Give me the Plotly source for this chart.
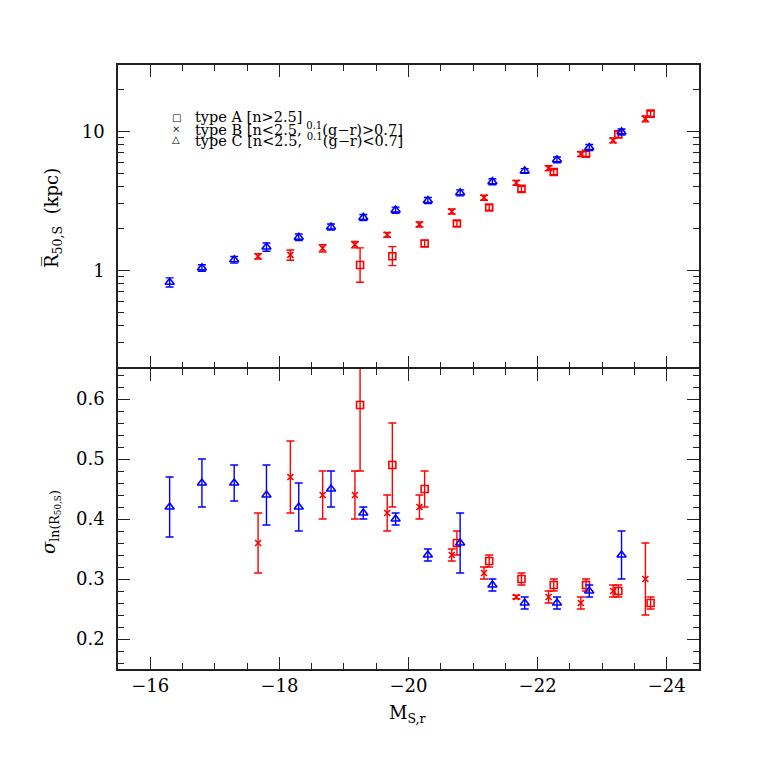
import plotly.graph_objects as go

# ---------------- data ----------------
# x positions: absolute magnitude M_S,r
xA = [-19.25, -19.75, -20.25, -20.75, -21.25, -21.75, -22.25, -22.75, -23.25, -23.75]
xB = [-17.67, -18.17, -18.67, -19.17, -19.67, -20.17, -20.67, -21.17, -21.67, -22.17, -22.67, -23.17, -23.67]
xC = [-16.3, -16.8, -17.3, -17.8, -18.3, -18.8, -19.3, -19.8, -20.3, -20.8, -21.3, -21.8, -22.3, -22.8, -23.3]

# top panel: mean R50,S (kpc)
RA = [1.09, 1.26, 1.56, 2.17, 2.83, 3.85, 5.10, 6.89, 9.5, 13.4]
RA_up = [0.36, 0.22, 0.08, 0.10, 0.13, 0.17, 0.22, 0.30, 0.45, 0.60]
RA_dn = [0.27, 0.18, 0.08, 0.10, 0.13, 0.17, 0.22, 0.30, 0.45, 0.60]
RB = [1.26, 1.29, 1.44, 1.53, 1.80, 2.14, 2.65, 3.33, 4.26, 5.43, 6.86, 8.6, 12.3]
RB_err = [0.057, 0.11, 0.086, 0.08, 0.07, 0.09, 0.11, 0.14, 0.17, 0.22, 0.27, 0.35, 0.6]
RC = [0.82, 1.04, 1.19, 1.47, 1.73, 2.05, 2.40, 2.71, 3.18, 3.61, 4.34, 5.19, 6.24, 7.65, 9.9]
RC_err = [0.062, 0.057, 0.065, 0.10, 0.095, 0.10, 0.12, 0.135, 0.16, 0.18, 0.22, 0.20, 0.30, 0.38, 0.50]

# bottom panel: sigma ln(R50,S)
SA = [0.59, 0.49, 0.45, 0.36, 0.33, 0.30, 0.29, 0.29, 0.28, 0.26]
SA_up = [0.16, 0.07, 0.03, 0.02, 0.01, 0.01, 0.01, 0.01, 0.01, 0.01]
SA_dn = [0.11, 0.07, 0.03, 0.02, 0.01, 0.01, 0.01, 0.01, 0.01, 0.01]
SB = [0.36, 0.47, 0.44, 0.44, 0.41, 0.42, 0.34, 0.31, 0.27, 0.27, 0.26, 0.28, 0.30]
SB_err = [0.05, 0.06, 0.04, 0.04, 0.03, 0.02, 0.01, 0.01, 0.003, 0.01, 0.01, 0.01, 0.06]
SC = [0.42, 0.46, 0.46, 0.44, 0.42, 0.45, 0.41, 0.40, 0.34, 0.36, 0.29, 0.26, 0.26, 0.28, 0.34]
SC_err = [0.05, 0.04, 0.03, 0.05, 0.04, 0.03, 0.01, 0.01, 0.01, 0.05, 0.01, 0.01, 0.01, 0.01, 0.04]

# tick definitions
x_major = [-16, -18, -20, -22, -24]
x_major_text = ["\u221216", "\u221218", "\u221220", "\u221222", "\u221224"]
r_major = [1, 10]
r_major_text = ["1", "10"]
r_minor = [0.2, 0.3, 0.4, 0.5, 0.6, 0.7, 0.8, 0.9, 2, 3, 4, 5, 6, 7, 8, 9, 20]
s_major = [0.2, 0.3, 0.4, 0.5, 0.6]
s_major_text = ["0.2", "0.3", "0.4", "0.5", "0.6"]

legend_labels = [
    "type A [n>2.5]",
    "type B [n<2.5, <sup>0.1</sup>(g\u2212r)>0.7]",
    "type C [n<2.5, <sup>0.1</sup>(g\u2212r)<0.7]",
]
legend_symbols = ["\u25a1", "\u00d7", "\u25b3"]

RED = "#ff0000"
BLUE = "#0000ff"
FONT = "DejaVu Serif"

fig = go.Figure()


def add(x, y, up, dn, color, symbol, size, xa, ya):
    fig.add_trace(go.Scatter(
        x=x, y=y, mode="markers", xaxis=xa, yaxis=ya, showlegend=False,
        marker=dict(symbol=symbol, size=size, color=color,
                    line=dict(color=color, width=1.6)),
        error_y=dict(type="data", symmetric=False, array=up, arrayminus=dn,
                     color=color, thickness=1.4, width=4),
    ))


# top panel
add(xA, RA, RA_up, RA_dn, RED, "square-open", 7, "x2", "y2")
add(xB, RB, RB_err, RB_err, RED, "x-thin-open", 6, "x2", "y2")
add(xC, RC, RC_err, RC_err, BLUE, "triangle-up-open", 8, "x2", "y2")
# bottom panel
add(xA, SA, SA_up, SA_dn, RED, "square-open", 7, "x", "y")
add(xB, SB, SB_err, SB_err, RED, "x-thin-open", 6, "x", "y")
add(xC, SC, SC_err, SC_err, BLUE, "triangle-up-open", 8, "x", "y")

# frame geometry (px, figure coordinates; page has an 8px body margin)
OFF = 8
W = H = 755
L, T = 110, 57
PW, PH = 581, 604
R = W - L - PW
B = H - T - PH
LW = 1.6
split = 300 / PH
gap = LW / PH

axis_common = dict(
    showline=True, linecolor="#222", linewidth=LW, mirror="allticks",
    ticks="inside", ticklen=12, tickwidth=1.3, tickcolor="#222",
    showgrid=False, zeroline=False,
    tickfont=dict(family=FONT, size=18, color="black"),
)

fig.update_layout(
    width=W, height=H,
    margin=dict(l=L, r=R, t=T, b=B),
    paper_bgcolor="white", plot_bgcolor="white",
    font=dict(family=FONT, color="black"),
    xaxis=dict(domain=[0, 1], anchor="y", range=[-15.5, -24.5],
               tickmode="array", tickvals=x_major, ticktext=x_major_text,
               minor=dict(dtick=0.5, tick0=-16, ticks="inside", ticklen=6,
                          tickwidth=1.2, tickcolor="#222", showgrid=False),
               **axis_common),
    xaxis2=dict(domain=[0, 1], anchor="y2", range=[-15.5, -24.5], matches="x",
                tickmode="array", tickvals=x_major, showticklabels=False,
                minor=dict(dtick=0.5, tick0=-16, ticks="inside", ticklen=6,
                           tickwidth=1.2, tickcolor="#222", showgrid=False),
                **axis_common),
    yaxis=dict(domain=[0, split], anchor="x", range=[0.15, 0.65],
               tickmode="array", tickvals=s_major, ticktext=s_major_text,
               ticklabelstandoff=8,
               minor=dict(dtick=0.02, tick0=0, ticks="inside", ticklen=6,
                          tickwidth=1.2, tickcolor="#222", showgrid=False),
               **axis_common),
    yaxis2=dict(domain=[split + gap, 1], anchor="x2", type="log",
                range=[-0.69897, 1.4771],
                tickmode="array", tickvals=r_major, ticktext=r_major_text,
                ticklabelstandoff=8,
                minor=dict(tickmode="array", tickvals=r_minor, ticks="inside",
                           ticklen=6, tickwidth=1.2, tickcolor="#222",
                           showgrid=False),
                **axis_common),
)


def px2paper(px, py):
    """page pixel -> paper fraction"""
    fx, fy = px - OFF, py - OFF
    return (fx - L) / PW, (T + PH - fy) / PH


annots = []
# axis titles
x0, y0 = px2paper(408, 714)
annots.append(dict(x=x0, y=y0, xref="paper", yref="paper", showarrow=False,
                   text="M<sub>S,r</sub>", font=dict(family=FONT, size=18, color="black"),
                   xanchor="center", yanchor="middle"))
x0, y0 = px2paper(53, 218)
annots.append(dict(x=x0, y=y0, xref="paper", yref="paper", showarrow=False,
                   text="R\u0305<sub>50,S</sub>  (kpc)", textangle=-90,
                   font=dict(family=FONT, size=18, color="black"),
                   xanchor="center", yanchor="middle"))
x0, y0 = px2paper(50, 522)
annots.append(dict(x=x0, y=y0, xref="paper", yref="paper", showarrow=False,
                   text="<i>\u03c3</i><sub>ln(R<sub>50,S</sub>)</sub>", textangle=-90,
                   font=dict(family=FONT, size=18, color="black"),
                   xanchor="center", yanchor="middle"))
# legend (symbols + text)
rows_py = [117.5, 128.5, 139.5]
for sym, lab, py in zip(legend_symbols, legend_labels, rows_py):
    xs, ys = px2paper(176, py)
    annots.append(dict(x=xs, y=ys, xref="paper", yref="paper", showarrow=False,
                       text=sym, font=dict(family=FONT, size=10, color="black"),
                       xanchor="center", yanchor="middle"))
    xt, yt = px2paper(193, py)
    annots.append(dict(x=xt, y=yt, xref="paper", yref="paper", showarrow=False,
                       text=lab, font=dict(family=FONT, size=14.5, color="black"),
                       xanchor="left", yanchor="middle"))

fig.update_layout(annotations=annots)
fig.write_html("out.html")
